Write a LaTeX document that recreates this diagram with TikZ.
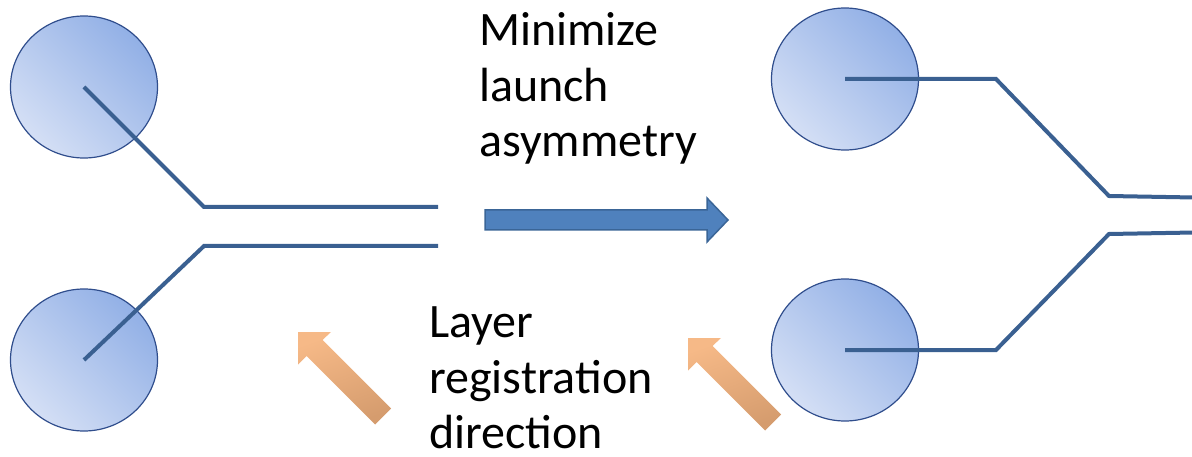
\documentclass[tikz,border=0pt]{standalone}
\usepackage{fontspec}
\setmainfont{Carlito}
\usetikzlibrary{shapes.geometric}
\definecolor{trace}{HTML}{3A6091}
\definecolor{padedge}{HTML}{2F4D8C}
\definecolor{paddark}{HTML}{92B0E6}
\definecolor{padlight}{HTML}{D4DFF5}
\definecolor{bluefill}{HTML}{4F81BD}
\definecolor{blueedge}{HTML}{3A6597}
\definecolor{orlight}{HTML}{F6B987}
\definecolor{ordark}{HTML}{D59C6E}
\begin{document}
\begin{tikzpicture}[x=1pt,y=-1pt,
  pad/.style={ellipse,draw=padedge,line width=1.2pt,minimum width=147pt,minimum height=142pt,inner sep=0pt,
    top color=paddark,bottom color=padlight,shading angle=-45},
  tracewire/.style={draw=trace,line width=4pt,line join=miter},
  label/.style={font=\fontsize{48}{56}\selectfont,anchor=base west,inner sep=0pt,text=black},
  bigarrow/.style={fill=bluefill,draw=blueedge,line width=1.5pt},
  regarrow/.style={top color=orlight,bottom color=ordark,shading angle=20}]
\useasboundingbox (0,0) rectangle (1192,457);
% left pads
\node[pad] (pl1) at (84,87) {};
\node[pad] (pl2) at (84,360) {};
% right pads
\node[pad] (pr1) at (845,79) {};
\node[pad] (pr2) at (845,350) {};
% left traces
\coordinate (lb1) at (204,207);
\coordinate (le1) at (438,207);
\coordinate (lb2) at (204,246);
\coordinate (le2) at (438,246);
\path[tracewire] (pl1.center) -- (lb1) -- (le1);
\path[tracewire] (pl2.center) -- (lb2) -- (le2);
% right traces
\coordinate (ra1) at (996,79);
\coordinate (rb1) at (1109,196);
\coordinate (re1) at (1194,197.5);
\coordinate (ra2) at (996,350);
\coordinate (rb2) at (1109,234);
\coordinate (re2) at (1194,232.5);
\path[tracewire] (pr1.center) -- (ra1) -- (rb1) -- (re1);
\path[tracewire] (pr2.center) -- (ra2) -- (rb2) -- (re2);
% blue arrow
\path[bigarrow] (485,210) -- (707,210) -- (707,198) -- (728,220) -- (707,242) -- (707,230) -- (485,230) -- cycle;
% orange arrows
\shade[regarrow] (298,332) -- (331,332) -- (322.5,340) -- (391,408.5) -- (375,424.5) -- (306.5,356) -- (298,364.5) -- cycle;
\shade[regarrow] (688,338) -- (721,338) -- (712.5,346) -- (781,414.5) -- (765,430.5) -- (696.5,362) -- (688,370.5) -- cycle;
% texts
\node[label] (t1) at (479,46) {Minimize};
\node[label] (t2) at (479,102) {launch};
\node[label] (t3) at (479,157) {asymmetry};
\node[label] (t4) at (429,337) {Layer};
\node[label] (t5) at (429,393) {registration};
\node[label] (t6) at (429,448) {direction};
\end{tikzpicture}
\end{document}
